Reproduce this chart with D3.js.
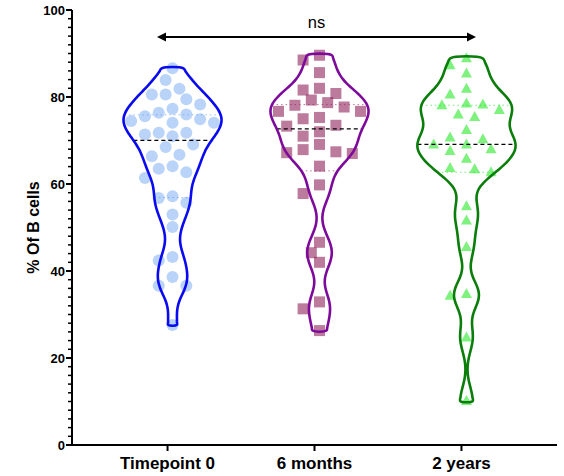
<!DOCTYPE html>
<html><head><meta charset="utf-8">
<script src="https://cdn.jsdelivr.net/npm/d3@7"></script>
<style>body{margin:0;background:#fff}svg{font-family:"Liberation Sans",Arial,sans-serif}</style>
</head><body><svg id="c" width="564" height="476"></svg>
<script>
const categories = ["Timepoint 0", "6 months", "2 years"];
const timepoint0 = [86.6,83.9,81.9,80.6,80.6,79.5,78.3,77.3,76.4,75.6,76.0,74.9,74.1,74.1,74.5,71.0,71.4,71.8,71.8,68.5,69.1,66.7,66.4,64.1,63.5,62.7,61.4,56.8,57.2,55.7,53.0,50.1,42.4,43.2,38.6,36.6,36.6,27.6];
const months6 = [89.6,88.5,85.6,81.6,82.0,80.8,78.7,79.3,78.1,77.7,76.7,76.7,75.0,75.3,73.5,73.3,72.0,71.0,69.1,67.4,67.0,67.2,67.9,64.1,59.8,57.8,46.6,44.2,42.0,32.9,31.3,26.3];
const years2 = [88.9,87.3,85.4,81.9,80.6,78.5,78.3,78.1,77.0,76.0,75.4,72.4,70.7,70.3,69.1,69.1,68.0,67.6,65.8,63.7,63.4,62.7,54.9,51.6,45.5,34.7,34.3,24.7,10.1];
const yTicks = [0,20,40,60,80,100];
const sigLabel = "ns";

const series = [
  {name: categories[0], values: timepoint0, stroke:"#0a0af0", fill:"rgb(90,150,240)", op:0.42, shape:"circle"},
  {name: categories[1], values: months6, stroke:"#7d0a9a", fill:"rgb(140,25,85)", op:0.58, shape:"square"},
  {name: categories[2], values: years2, stroke:"#0a7d0a", fill:"rgb(20,230,20)", op:0.55, shape:"triangle"}
];

const svg = d3.select("#c");
const x = d3.scalePoint().domain(categories).range([72,557]).padding(0.65);
const y = d3.scaleLinear().domain([0,100]).range([445,10]);
const shift = 5;

// axes
const yAxis = svg.append("g").attr("transform","translate(72,0)");
yAxis.append("line").attr("x1",0).attr("x2",0).attr("y1",y(100)).attr("y2",y(0)+1).attr("stroke","#000").attr("stroke-width",2);
d3.range(0,101,2).forEach(v=>{
  const major = v%20===0;
  yAxis.append("line").attr("x1",major?-6:-4).attr("x2",0).attr("y1",y(v)).attr("y2",y(v)).attr("stroke","#000").attr("stroke-width",major?2:1.5);
});
yAxis.selectAll("text.t").data(yTicks).join("text").attr("x",-7).attr("y",d=>y(d)+4.5)
  .attr("text-anchor","end").attr("font-size",13).attr("font-weight","bold").text(d=>d);
svg.append("text").attr("transform",`translate(39,${y(50)}) rotate(-90)`).attr("text-anchor","middle")
  .attr("font-size",16).attr("font-weight","bold").text("% Of B cells");

const xAxis = svg.append("g");
xAxis.append("line").attr("x1",71).attr("x2",557).attr("y1",y(0)).attr("y2",y(0)).attr("stroke","#000").attr("stroke-width",2);
categories.forEach(c=>{
  xAxis.append("line").attr("x1",x(c)).attr("x2",x(c)).attr("y1",y(0)).attr("y2",y(0)+6).attr("stroke","#000").attr("stroke-width",2);
  xAxis.append("text").attr("x",x(c)).attr("y",469).attr("text-anchor","middle").attr("font-size",17).attr("font-weight","bold").text(c);
});

// KDE
function kde(values, bw, grid){
  return grid.map(t=>{
    let s=0; for(const v of values){const u=(t-v)/bw; s+=Math.exp(-0.5*u*u);} return [t,s];
  });
}
const maxHalf = 49;
const bw = 3.3;

series.forEach(s=>{
  const cx = x(s.name)+shift;
  const vals = s.values.slice().sort((a,b)=>a-b);
  const lo = d3.min(vals), hi = d3.max(vals);
  const grid = d3.range(0,81).map(i=>lo+(hi-lo)*i/80);
  const dens = kde(vals,bw,grid);
  const dmax = d3.max(dens,d=>d[1]);
  const w = d3.scaleLinear().domain([0,dmax]).range([0,maxHalf]);
  const halfAt = v=>{ let s2=0; for(const q of vals){const u=(v-q)/bw; s2+=Math.exp(-0.5*u*u);} return w(s2); };

  const q1 = d3.quantile(vals,0.25), med = d3.quantile(vals,0.5), q3 = d3.quantile(vals,0.75);
  [q1,q3].forEach(q=>{
    const h = halfAt(q);
    svg.append("line").attr("x1",cx-h).attr("x2",cx+h).attr("y1",y(q)).attr("y2",y(q))
      .attr("stroke",s.fill).attr("stroke-opacity",0.6).attr("stroke-width",1).attr("stroke-dasharray","1.5,3");
  });

  // points (beeswarm)
  const r = s.shape==="circle"?6:5.5;
  const step = s.shape==="circle"?6.9:8.2;
  const minD = s.shape==="circle"?2*r+0.5:(s.shape==="square"?2*r+1:12.5);
  const placed=[];
  const order = s.values.map((v,i)=>({v,i})).sort((a,b)=>b.v-a.v);
  order.forEach(p=>{
    const py=y(p.v);
    for(let k=0;k<40;k++){
      const offs = k===0?[0]:[-k*step,k*step];
      let ok=null;
      for(const o of offs){
        if(placed.every(q=>Math.hypot(q.x-(cx+o),q.y-py)>=minD)){ok=o;break;}
      }
      if(ok!==null){placed.push({x:cx+ok,y:py});break;}
    }
  });
  const g = svg.append("g");
  placed.forEach(p=>{
    if(s.shape==="circle") g.append("circle").attr("cx",p.x).attr("cy",p.y).attr("r",r).attr("fill",s.fill).attr("fill-opacity",s.op);
    else if(s.shape==="square") g.append("rect").attr("x",p.x-r).attr("y",p.y-r).attr("width",2*r).attr("height",2*r).attr("fill",s.fill).attr("fill-opacity",s.op);
    else g.append("path").attr("d",`M${p.x},${p.y-6}L${p.x+5.5},${p.y+4}L${p.x-5.5},${p.y+4}Z`).attr("fill",s.fill).attr("fill-opacity",s.op);
  });

  const hm = halfAt(med);
  svg.append("line").attr("x1",cx-hm).attr("x2",cx+hm).attr("y1",y(med)).attr("y2",y(med))
    .attr("stroke","#000").attr("stroke-width",1.2).attr("stroke-dasharray","4,3");

  const right = dens.map(d=>[cx+w(d[1]), y(d[0])]);
  const left = dens.slice().reverse().map(d=>[cx-w(d[1]), y(d[0])]);
  const pts = right.concat(left);
  svg.append("path").attr("d", d3.line().curve(d3.curveCatmullRomClosed)(pts))
    .attr("fill","none").attr("stroke",s.stroke).attr("stroke-width",2.6).attr("stroke-linejoin","round");
});

// significance bracket
const sy = 37, sx1 = 157, sx2 = 476;
svg.append("line").attr("x1",sx1+6).attr("x2",sx2-6).attr("y1",sy).attr("y2",sy).attr("stroke","#000").attr("stroke-width",2);
svg.append("path").attr("d",`M${sx1},${sy}L${sx1+9},${sy-4.5}L${sx1+9},${sy+4.5}Z`).attr("fill","#000");
svg.append("path").attr("d",`M${sx2},${sy}L${sx2-9},${sy-4.5}L${sx2-9},${sy+4.5}Z`).attr("fill","#000");
svg.append("text").attr("x",(sx1+sx2)/2).attr("y",28).attr("text-anchor","middle").attr("font-size",16.5).text(sigLabel);
</script></body></html>
